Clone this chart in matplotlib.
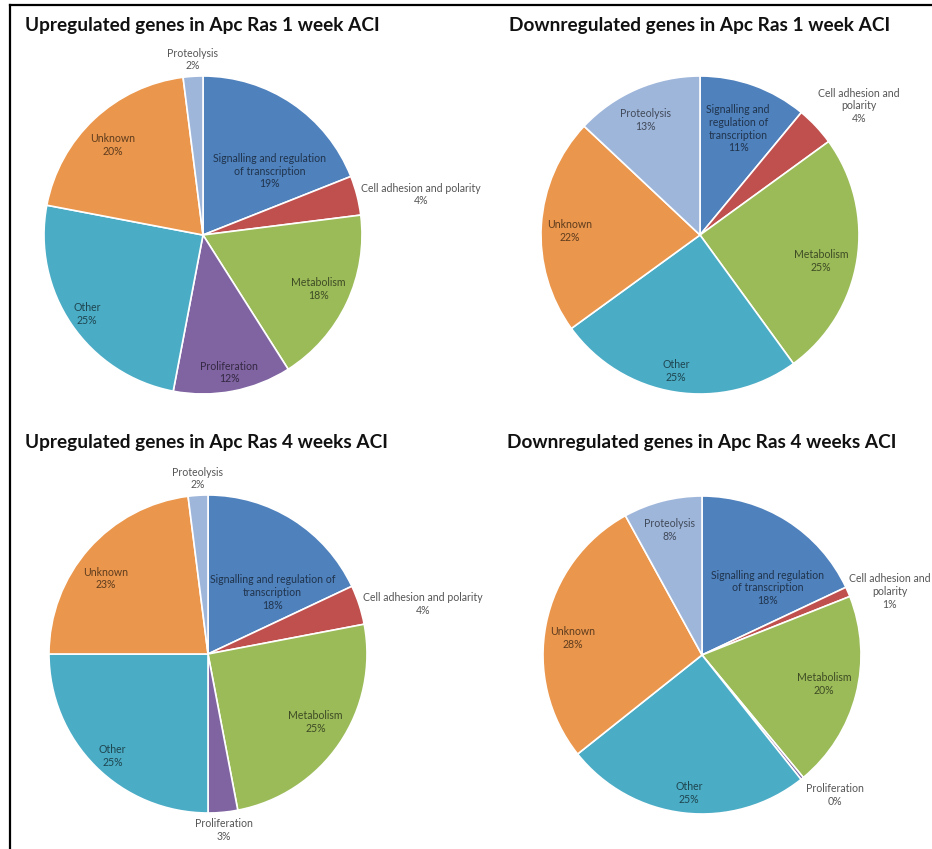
import matplotlib
matplotlib.use("Agg")
import matplotlib.pyplot as plt
from matplotlib.lines import Line2D
import numpy as np
from matplotlib.colors import to_rgb

W, H = 932, 849
plt.rcParams['font.family'] = ['Lato', 'DejaVu Sans']

# ---- data ----
SIG = "Signalling and regulation of transcription"
ADH = "Cell adhesion and polarity"
MET = "Metabolism"
PRO = "Proliferation"
OTH = "Other"
UNK = "Unknown"
PRT = "Proteolysis"

up1_cats = [SIG, ADH, MET, PRO, OTH, UNK, PRT]
up1_vals = [19, 4, 18, 12, 25, 20, 2]

down1_cats = [SIG, ADH, MET, OTH, UNK, PRT]
down1_vals = [11, 4, 25, 25, 22, 13]

up4_cats = [SIG, ADH, MET, PRO, OTH, UNK, PRT]
up4_vals = [18, 4, 25, 3, 25, 23, 2]

down4_cats = [SIG, ADH, MET, PRO, OTH, UNK, PRT]
down4_vals = [18, 1, 20, 0.3, 25, 27.7, 8]

titles = ["Upregulated genes in Apc Ras 1 week ACI",
          "Downregulated genes in Apc Ras 1 week ACI",
          "Upregulated genes in Apc Ras 4 weeks ACI",
          "Downregulated genes in Apc Ras 4 weeks ACI"]

# ---- styling ----
COLORS = {SIG: "#4F81BD", ADH: "#C0504D", MET: "#9BBB59", PRO: "#8064A2",
          OTH: "#4BACC6", UNK: "#EA964C", PRT: "#9FB6DB"}
OUTSIDE_COLOR = "#555555"
LABEL_SIZE = 7.6


def dark(c, f=0.4):
    r, g, b = to_rgb(c)
    return (r * f, g * f, b * f)


# label placement: ('in', radius fraction, angle shift) or ('out', gap px, ha, va)
charts = [
    dict(cats=up1_cats, vals=up1_vals, center=(203, 235), title=titles[0],
         title_xy=(25, 25), title_ha="left",
         wrap={SIG: "Signalling and regulation\nof transcription"},
         place={SIG: ("in", 0.58, -12), ADH: ("out", 4, "left", "center"),
                MET: ("in", 0.80, 0), PRO: ("in", 0.88, 0), OTH: ("in", 0.88, 0),
                UNK: ("in", 0.80, 2), PRT: ("out", 5, "center", "bottom")}),
    dict(cats=down1_cats, vals=down1_vals, center=(700, 235), title=titles[1],
         title_xy=(700, 25), title_ha="center",
         wrap={SIG: "Signalling and\nregulation of\ntranscription",
               ADH: "Cell adhesion and\npolarity"},
         place={SIG: ("in", 0.71, 0), ADH: ("out", 3, "left", "bottom"),
                MET: ("in", 0.78, -3), OTH: ("in", 0.87, -1),
                UNK: ("in", 0.82, 2), PRT: ("in", 0.80, 2)}),
    dict(cats=up4_cats, vals=up4_vals, center=(208, 654), title=titles[2],
         title_xy=(25, 442), title_ha="left",
         wrap={SIG: "Signalling and regulation of\ntranscription"},
         place={SIG: ("in", 0.56, -14), ADH: ("out", 4, "left", "center"),
                MET: ("in", 0.80, 2), PRO: ("out", 6, "center", "top"),
                OTH: ("in", 0.88, 2), UNK: ("in", 0.80, 5),
                PRT: ("out", 5, "center", "bottom")}),
    dict(cats=down4_cats, vals=down4_vals, center=(702, 655), title=titles[3],
         title_xy=(702, 442), title_ha="center",
         wrap={SIG: "Signalling and regulation\nof transcription",
               ADH: "Cell adhesion and\npolarity"},
         place={SIG: ("in", 0.59, -12), ADH: ("out", 1, "left", "center"),
                MET: ("in", 0.79, 1), PRO: ("out", 6, "left", "top"),
                OTH: ("in", 0.87, 1), UNK: ("in", 0.82, 4), PRT: ("in", 0.81, 0)}),
]

RADIUS = 159

fig = plt.figure(figsize=(W / 100, H / 100), dpi=100)
ax = fig.add_axes([0, 0, 1, 1])

for ch in charts:
    cx, cy = ch["center"]
    cy = H - cy
    vals = np.array(ch["vals"], dtype=float)
    total = vals.sum()
    wedges, _ = ax.pie(vals, colors=[COLORS[c] for c in ch["cats"]],
                       startangle=90, counterclock=False, center=(cx, cy),
                       radius=RADIUS,
                       wedgeprops=dict(edgecolor="white", linewidth=1.2))
    for w, cat, v in zip(wedges, ch["cats"], vals):
        name = ch["wrap"].get(cat, cat)
        txt = f"{name}\n{round(v / total * 100):.0f}%"
        mid = (w.theta1 + w.theta2) / 2
        spec = ch["place"][cat]
        if spec[0] == "in":
            ang = np.deg2rad(mid + spec[2])
            d = RADIUS * spec[1]
            ax.text(cx + d * np.cos(ang), cy + d * np.sin(ang), txt,
                    ha="center", va="center", fontsize=LABEL_SIZE,
                    color=dark(COLORS[cat]), linespacing=1.2)
        else:
            ang = np.deg2rad(mid)
            d = RADIUS + spec[1]
            ax.text(cx + d * np.cos(ang), cy + d * np.sin(ang), txt,
                    ha=spec[2], va=spec[3], multialignment="center",
                    fontsize=LABEL_SIZE, color=OUTSIDE_COLOR, linespacing=1.2)
    tx, ty = ch["title_xy"]
    ax.text(tx, H - ty, ch["title"], ha=ch["title_ha"], va="center",
            fontsize=13.7, fontweight="bold", color="#111111")

ax.set_xlim(0, W)
ax.set_ylim(0, H)
ax.set_aspect("equal")
ax.axis("off")

# frame lines along the top and left
fig.add_artist(Line2D([10 / W, 10 / W], [0, 1 - 5 / H], color="black", lw=1.6,
                      transform=fig.transFigure))
fig.add_artist(Line2D([10 / W, 1], [1 - 5 / H, 1 - 5 / H], color="black", lw=1.6,
                      transform=fig.transFigure))

fig.savefig("out.png", dpi=100, facecolor="white")
